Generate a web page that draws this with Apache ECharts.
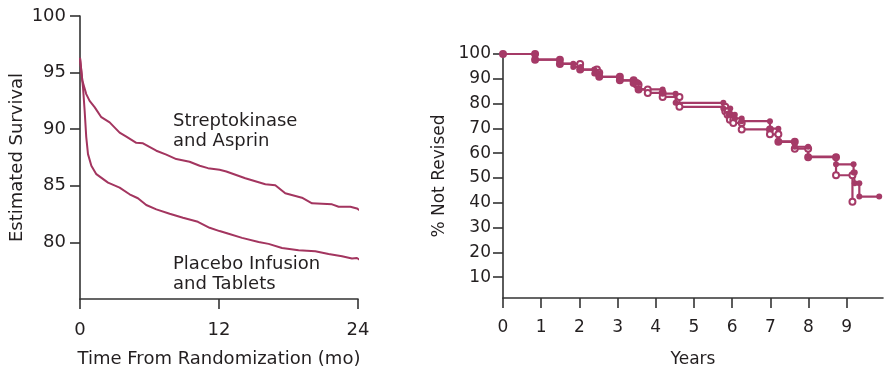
<!DOCTYPE html>
<html><head><meta charset="utf-8">
<script src="https://cdn.jsdelivr.net/npm/echarts@6/dist/echarts.min.js"></script>
<style>html,body{margin:0;padding:0;background:#fff}#c{width:884px;height:373px}</style>
</head><body><div id="c"></div>
<script>
// ---- Left panel: estimated survival (months) ----
const leftXTicks = [0, 12, 24];
const leftYTicks = [80, 85, 90, 95, 100];
const streptoT = [0, 0.2, 0.54, 0.83, 1.26, 1.84, 2.56, 3.42, 4.0, 4.86, 5.44, 6.59, 7.45, 8.31, 9.46, 10.33, 11.05, 12.05, 12.63, 14.27, 16.0, 16.86, 17.72, 19.16, 20.03, 21.76, 22.33, 23.34, 23.91, 24.35];
const streptoV = [96.3, 94.3, 93.1, 92.5, 91.95, 91.06, 90.6, 89.7, 89.35, 88.8, 88.75, 88.1, 87.75, 87.36, 87.12, 86.77, 86.56, 86.41, 86.26, 85.67, 85.14, 85.05, 84.34, 83.95, 83.45, 83.36, 83.15, 83.15, 83.0, 82.68];
const placeboT = [0, 0.26, 0.4, 0.54, 0.69, 0.98, 1.41, 2.42, 3.42, 4.28, 5.0, 5.72, 6.59, 7.74, 8.89, 10.18, 11.19, 12.05, 12.83, 13.99, 15.42, 16.28, 17.44, 18.87, 20.31, 21.46, 22.62, 23.48, 23.91, 24.35];
const placeboV = [96.3, 93.7, 91.65, 89.3, 87.8, 86.77, 86.03, 85.28, 84.84, 84.25, 83.9, 83.3, 82.92, 82.53, 82.18, 81.82, 81.29, 81.0, 80.76, 80.4, 80.04, 79.87, 79.51, 79.31, 79.22, 78.98, 78.77, 78.57, 78.62, 78.33];

// ---- Right panel: % not revised (years), Kaplan-Meier steps ----
const rightXTicks = [0, 1, 2, 3, 4, 5, 6, 7, 8, 9];
const rightYTicks = [10, 20, 30, 40, 50, 60, 70, 80, 90, 100];
// group A (filled markers): drop times and value after each drop
const groupAT = [0, 0.84, 1.49, 1.84, 2.04, 2.39, 2.52, 3.06, 3.42, 3.55, 4.18, 4.52, 5.77, 5.95, 6.07, 6.25, 6.99, 7.21, 7.64, 7.99, 8.72, 9.18, 9.21, 9.33];
const groupAV = [100, 97.7, 96.1, 94.8, 93.7, 92.1, 90.8, 89.4, 88.3, 85.7, 84.0, 80.3, 78.0, 75.5, 74.0, 72.9, 69.9, 64.8, 62.6, 58.6, 55.5, 52.2, 47.9, 42.5];
const groupAEnd = 9.85;
// group B (open markers)
const groupBT = [0, 0.84, 1.49, 2.02, 2.46, 2.52, 3.06, 3.42, 3.50, 3.55, 3.79, 4.18, 4.62, 5.82, 5.88, 5.94, 6.03, 6.25, 6.99, 7.21, 7.64, 7.99, 8.72, 9.15];
const groupBV = [100, 97.7, 96.0, 93.7, 92.4, 90.8, 89.4, 88.3, 87.6, 85.7, 84.3, 82.7, 78.7, 76.9, 75.5, 73.5, 72.2, 69.6, 67.6, 64.6, 61.8, 58.4, 51.1, 40.4];

function pairs(t, v) { return t.map((x, i) => [x, v[i]]); }
function steps(t, v, end) {
  const out = [[t[0], v[0]]];
  for (let i = 1; i < t.length; i++) { out.push([t[i], v[i - 1]]); out.push([t[i], v[i]]); }
  if (end != null) out.push([end, v[v.length - 1]]);
  return out;
}

const TXT = '#231f20';
const FONT = 'DejaVu Sans';
const LC = '#a3355f';
const RC = '#a53a67';
const axisLine = { show: true, lineStyle: { color: '#333', width: 1.6 } };

const chart = echarts.init(document.getElementById('c'), null, { renderer: 'canvas' });
chart.setOption({
  animation: false,
  backgroundColor: '#fff',
  textStyle: { fontFamily: FONT, color: TXT },
  grid: [
    { left: 80, top: 16, width: 278, height: 283 },
    { left: 503, top: 54, width: 380, height: 245 }
  ],
  xAxis: [
    { gridIndex: 0, type: 'value', min: 0, max: 24, interval: 12,
      axisLine, axisTick: { show: true, length: 10, lineStyle: { color: '#333', width: 1.6 } },
      splitLine: { show: false },
      axisLabel: { color: TXT, fontFamily: FONT, fontSize: 18, margin: 22 },
      name: 'Time From Randomization (mo)', nameLocation: 'middle', nameGap: 51,
      nameTextStyle: { color: TXT, fontFamily: FONT, fontSize: 18 } },
    { gridIndex: 1, type: 'value', min: 0, max: 9.95,
      axisLine, axisTick: { show: true, length: 10, customValues: rightXTicks, lineStyle: { color: '#333', width: 1.6 } },
      splitLine: { show: false },
      axisLabel: { color: TXT, fontFamily: FONT, fontSize: 17, margin: 21, customValues: rightXTicks },
      name: 'Years', nameLocation: 'middle', nameGap: 53,
      nameTextStyle: { color: TXT, fontFamily: FONT, fontSize: 17 } }
  ],
  yAxis: [
    { gridIndex: 0, type: 'value', min: 75, max: 100,
      axisLine, axisTick: { show: true, length: 10, customValues: leftYTicks, lineStyle: { color: '#333', width: 1.6 } },
      splitLine: { show: false },
      axisLabel: { color: TXT, fontFamily: FONT, fontSize: 18, margin: 14, customValues: leftYTicks },
      name: 'Estimated Survival', nameLocation: 'middle', nameGap: 54,
      nameTextStyle: { color: TXT, fontFamily: FONT, fontSize: 18 } },
    { gridIndex: 1, type: 'value', min: 1.6, max: 100,
      axisLine, axisTick: { show: true, length: 10, customValues: rightYTicks, lineStyle: { color: '#333', width: 1.6 } },
      splitLine: { show: false },
      axisLabel: { color: TXT, fontFamily: FONT, fontSize: 17, margin: 12, customValues: rightYTicks },
      name: '% Not Revised', nameLocation: 'middle', nameGap: 55,
      nameTextStyle: { color: TXT, fontFamily: FONT, fontSize: 17 } }
  ],
  graphic: [
    { type: 'text', left: 173, top: 111, style: { text: 'Streptokinase\nand Asprin', font: '18px "DejaVu Sans"', fill: TXT, lineHeight: 20 } },
    { type: 'text', left: 173, top: 254, style: { text: 'Placebo Infusion\nand Tablets', font: '18px "DejaVu Sans"', fill: TXT, lineHeight: 20 } }
  ],
  series: [
    { type: 'line', xAxisIndex: 0, yAxisIndex: 0, data: pairs(streptoT, streptoV), showSymbol: false, clip: false,
      lineStyle: { color: LC, width: 2 } },
    { type: 'line', xAxisIndex: 0, yAxisIndex: 0, data: pairs(placeboT, placeboV), showSymbol: false, clip: false,
      lineStyle: { color: LC, width: 2 } },
    { type: 'line', xAxisIndex: 1, yAxisIndex: 1, data: steps(groupBT, groupBV, null),
      symbol: 'emptyCircle', symbolSize: 6, showAllSymbol: true,
      itemStyle: { color: RC, borderColor: RC, borderWidth: 1.5 },
      lineStyle: { color: RC, width: 2.2 } },
    { type: 'line', xAxisIndex: 1, yAxisIndex: 1, data: steps(groupAT, groupAV, groupAEnd),
      symbol: 'circle', symbolSize: 6, showAllSymbol: true,
      itemStyle: { color: RC }, lineStyle: { color: RC, width: 2.2 } }
  ]
});
</script></body></html>
